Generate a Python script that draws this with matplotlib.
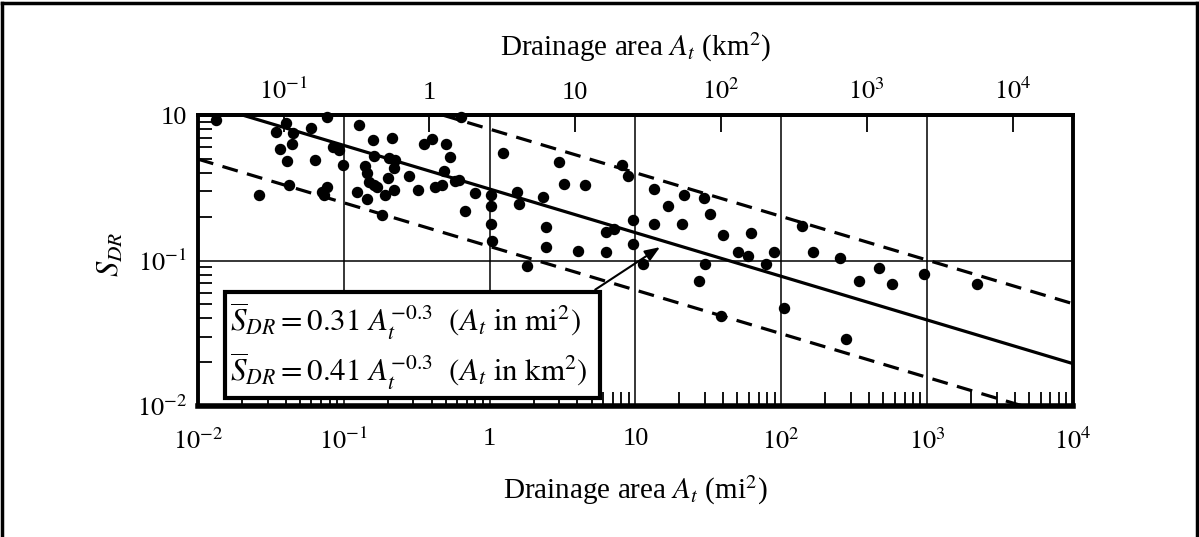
import numpy as np
import matplotlib
matplotlib.use("Agg")
import matplotlib.pyplot as plt
from matplotlib.patches import Rectangle
from matplotlib.lines import Line2D

plt.rcParams["font.family"] = ["Liberation Serif", "DejaVu Serif"]
plt.rcParams["mathtext.fontset"] = "stix"

# Observed drainage areas (mi^2) and delivery ratios
area_mi2 = [0.0132, 0.040, 0.0344, 0.0448, 0.0592, 0.0769, 0.0367, 0.0441, 0.0408,
            0.0638, 0.0843, 0.0925, 0.0984, 0.0261, 0.0421, 0.0711, 0.0769, 0.0734,
            0.127, 0.158, 0.213, 0.160, 0.203, 0.223, 0.220, 0.139, 0.144, 0.200,
            0.148, 0.160, 0.168, 0.123, 0.144, 0.191, 0.220, 0.182, 0.279, 0.321,
            0.353, 0.401, 0.500, 0.532, 0.484, 0.420, 0.469, 0.575, 0.614, 0.789,
            0.675, 1.02, 1.02, 1.02, 1.03, 0.633, 1.23, 2.99, 3.24, 4.50, 1.53,
            1.58, 2.33, 2.44, 6.25, 7.08, 8.03, 8.83, 9.69, 13.4, 21.4, 29.6, 16.8,
            32.2, 13.4, 20.7, 39.7, 61.5, 2.44, 4.03, 6.25, 9.55, 1.79, 11.2, 30.1,
            27.3, 50.6, 59.5, 78.4, 89.3, 38.5, 105, 139, 166, 251, 469, 343, 571,
            952, 2180, 277]
s_dr = [0.92, 0.88, 0.766, 0.754, 0.815, 0.97, 0.586, 0.634, 0.485,
        0.493, 0.605, 0.577, 0.456, 0.280, 0.333, 0.294, 0.318, 0.280,
        0.855, 0.675, 0.697, 0.525, 0.508, 0.493, 0.435, 0.449, 0.402, 0.372,
        0.344, 0.328, 0.318, 0.294, 0.263, 0.284, 0.303, 0.205, 0.383, 0.303,
        0.634, 0.686, 0.634, 0.517, 0.415, 0.318, 0.328, 0.354, 0.360, 0.289,
        0.218, 0.284, 0.236, 0.177, 0.136, 0.97, 0.550, 0.478, 0.338, 0.328, 0.294,
        0.243, 0.275, 0.169, 0.157, 0.164, 0.456, 0.383, 0.189, 0.308, 0.284, 0.271, 0.236,
        0.208, 0.177, 0.177, 0.149, 0.154, 0.124, 0.116, 0.114, 0.130, 0.0923, 0.0953, 0.0953,
        0.0727, 0.114, 0.107, 0.0946, 0.114, 0.0415, 0.0472, 0.172, 0.114, 0.104, 0.0894, 0.0727, 0.0692,
        0.0813, 0.0692, 0.0287]

# Fitted power law and envelope curves: S = c * A^-0.3
fit_coef = 0.31
upper_coef = 0.80
lower_coef = 0.125
exponent = -0.3

MI2_TO_KM2 = 2.59

x_ticks = [1e-2, 1e-1, 1, 10, 1e2, 1e3, 1e4]
x_labels = [r"$10^{-2}$", r"$10^{-1}$", "1", "10", r"$10^{2}$", r"$10^{3}$", r"$10^{4}$"]
km_ticks = [1e-1, 1, 10, 1e2, 1e3, 1e4]
km_labels = [r"$10^{-1}$", "1", "10", r"$10^{2}$", r"$10^{3}$", r"$10^{4}$"]
y_ticks = [1e-2, 1e-1, 1]
y_labels = [r"$10^{-2}$", r"$10^{-1}$", "10"]

fig = plt.figure(figsize=(11.99, 5.37), dpi=100)
ax = fig.add_axes([0.1651, 0.2439, 0.7298, 0.5419])
ax.set_xscale("log")
ax.set_yscale("log")
ax.set_xlim(1e-2, 1e4)
ax.set_ylim(1e-2, 1)

a = np.logspace(-2, 4, 200)
ax.plot(a, fit_coef * a ** exponent, color="black", lw=2.3, zorder=3)
ax.plot(a, upper_coef * a ** exponent, color="black", lw=2.3, dashes=(5, 3), zorder=3)
ax.plot(a, lower_coef * a ** exponent, color="black", lw=2.3, dashes=(5, 3), zorder=3)
ax.scatter(area_mi2, s_dr, s=52, color="black", zorder=4, clip_on=False)

ax.grid(True, which="major", color="black", lw=1.1)
ax.set_axisbelow(True)

ax.set_xticks(x_ticks)
ax.set_xticklabels(x_labels)
ax.set_yticks(y_ticks)
ax.set_yticklabels(y_labels)
ax.tick_params(which="both", direction="in", top=False, right=False, labelsize=19)
ax.tick_params(which="major", length=0, pad=16)
ax.tick_params(which="minor", length=10, width=1.3)
ax.tick_params(axis="y", which="major", pad=8)
ax.yaxis.set_minor_formatter(plt.NullFormatter())
ax.xaxis.set_minor_formatter(plt.NullFormatter())
for side in ["top", "left", "right"]:
    ax.spines[side].set_linewidth(2.8)
ax.spines["bottom"].set_linewidth(4)

ax.set_xlabel(r"Drainage area $A_t$ (mi$^2$)", fontsize=21, labelpad=14)
ax.set_ylabel(r"$S_{DR}$", fontsize=22)
ax.yaxis.set_label_coords(-0.082, 0.52)

# km^2 scale along the top
top = ax.secondary_xaxis("top", functions=(lambda m: m * MI2_TO_KM2, lambda k: k / MI2_TO_KM2))
top.set_xticks(km_ticks)
top.set_xticklabels(km_labels)
top.xaxis.set_minor_locator(matplotlib.ticker.NullLocator())
top.tick_params(direction="in", length=12, width=1.3, labelsize=19, pad=8)
top.spines["top"].set_linewidth(2.8)
top.set_xlabel(r"Drainage area $A_t$ (km$^2$)", fontsize=21, labelpad=16)

# equation box with arrow pointing to the fitted line
ax.add_patch(Rectangle((0.031, 0.027), 0.428, 0.365, transform=ax.transAxes,
                       facecolor="white", edgecolor="black", lw=3, zorder=6))
ax.text(0.037, 0.29, r"$\overline{S}_{DR} = 0.31\ A_t^{-0.3}\ \ (A_t\ \mathrm{in\ mi}^2)$",
        transform=ax.transAxes, fontsize=22.3, va="center", ha="left", zorder=7)
ax.text(0.037, 0.12, r"$\overline{S}_{DR} = 0.41\ A_t^{-0.3}\ \ (A_t\ \mathrm{in\ km}^2)$",
        transform=ax.transAxes, fontsize=22.3, va="center", ha="left", zorder=7)
ax.annotate("", xy=(0.528, 0.546), xytext=(0.454, 0.40),
            xycoords="axes fraction", textcoords="axes fraction",
            arrowprops=dict(arrowstyle="-|>,head_length=0.9,head_width=0.35",
                            color="black", lw=1.5, shrinkA=0, shrinkB=0), zorder=7)

# outer frame
for xs, ys in [([0.002, 0.998], [0.995, 0.995]), ([0.002, 0.002], [0, 0.995]),
               ([0.998, 0.998], [0, 0.995])]:
    fig.add_artist(Line2D(xs, ys, transform=fig.transFigure, color="black", lw=2.5))

fig.savefig("out.png", dpi=100)
